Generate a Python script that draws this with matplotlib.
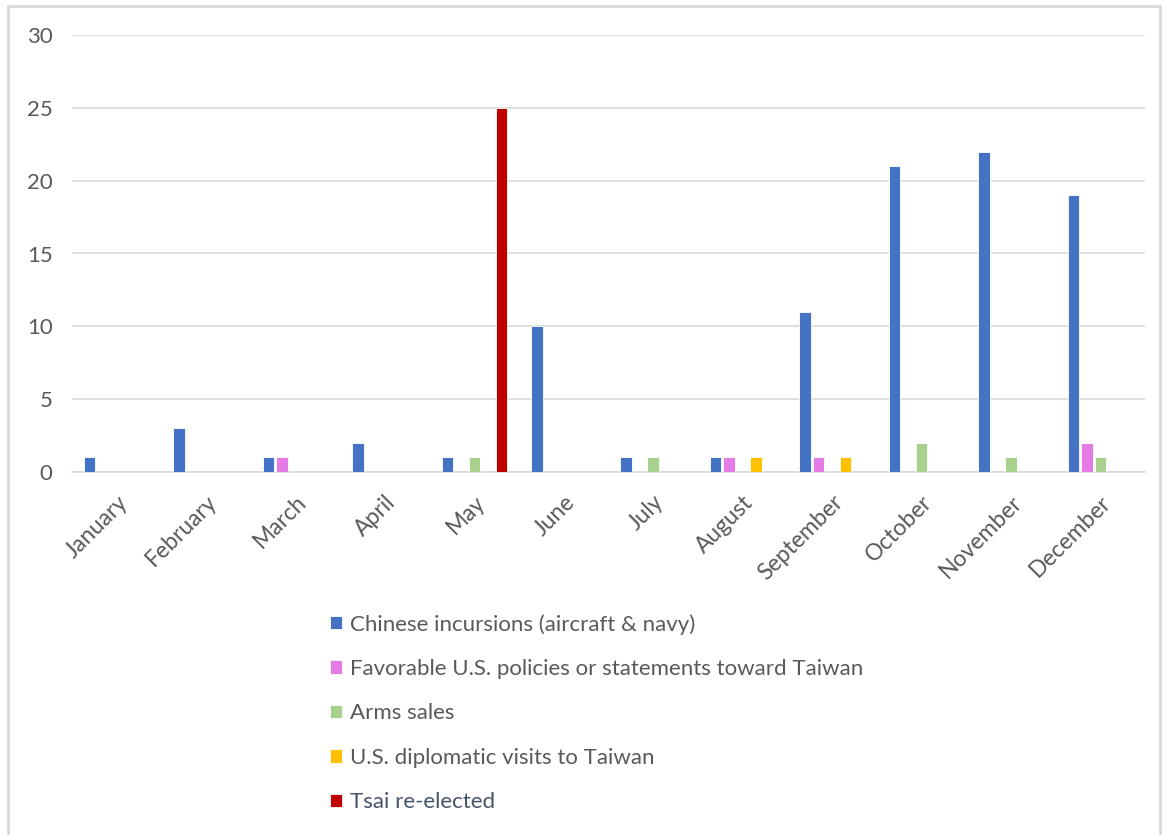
import matplotlib
matplotlib.use('Agg')
import matplotlib.pyplot as plt
import numpy as np
from matplotlib.patches import Rectangle

plt.rcParams['font.family'] = ['Lato', 'DejaVu Sans']

months = ['January', 'February', 'March', 'April', 'May', 'June', 'July',
          'August', 'September', 'October', 'November', 'December']
incursions = [1, 3, 1, 2, 1, 10, 1, 1, 11, 21, 22, 19]
favorable = [0, 0, 1, 0, 0, 0, 0, 1, 1, 0, 0, 2]
arms = [0, 0, 0, 0, 1, 0, 1, 0, 0, 2, 1, 1]
visits = [0, 0, 0, 0, 0, 0, 0, 1, 1, 0, 0, 0]
tsai = [0, 0, 0, 0, 25, 0, 0, 0, 0, 0, 0, 0]

series = [incursions, favorable, arms, visits, tsai]
names = ['Chinese incursions (aircraft & navy)',
         'Favorable U.S. policies or statements toward Taiwan',
         'Arms sales',
         'U.S. diplomatic visits to Taiwan',
         'Tsai re-elected']
colors = ['#4472C4', '#E57BE5', '#A9D18E', '#FFC000', '#C00000']

W, H = 1172, 835
fig = plt.figure(figsize=(W / 100, H / 100), dpi=100)
ax = fig.add_axes([72 / W, 1 - 472 / H, (1145 - 72) / W, (472 - 35) / H])

x = np.arange(len(months))
slot = 0.151
handles = []
for i, (vals, c) in enumerate(zip(series, colors)):
    b = ax.bar(x + (i - 2) * slot, vals, width=0.128, color=c,
               edgecolor='white', linewidth=0.6, zorder=3)
    handles.append(b)

ax.set_xlim(-0.5, len(months) - 0.5)
ax.set_ylim(0, 30)
ax.set_yticks(range(0, 31, 5))
ax.yaxis.grid(True, color='#d9d9d9', linewidth=1.2, zorder=0)
ax.set_axisbelow(True)
for s in ['top', 'right', 'left']:
    ax.spines[s].set_visible(False)
ax.spines['bottom'].set_color('#d9d9d9')
ax.spines['bottom'].set_linewidth(1.2)
ax.tick_params(length=0, colors='#595959', labelsize=16)
ax.tick_params(axis='y', pad=14)
ax.set_xticks(x)
ax.set_xticklabels(months, rotation=45, ha='right', rotation_mode='anchor',
                   fontsize=16.5)
ax.tick_params(axis='x', pad=14)

leg = fig.legend(handles, names, loc='upper left',
                 bbox_to_anchor=(310 / W, 1 - 594 / H),
                 frameon=False, fontsize=16, labelspacing=1.1,
                 handlelength=0.55, handleheight=0.55, handletextpad=0.35)
for t in leg.get_texts():
    t.set_color('#595959')
leg.get_texts()[-1].set_color('#44546A')

fig.patches.append(Rectangle((8 / W, -0.05), (1160 - 8) / W, 1.05 - 6 / H,
                             transform=fig.transFigure, fill=False,
                             edgecolor='#d9d9d9', linewidth=2))

fig.savefig('out.png', dpi=100)
